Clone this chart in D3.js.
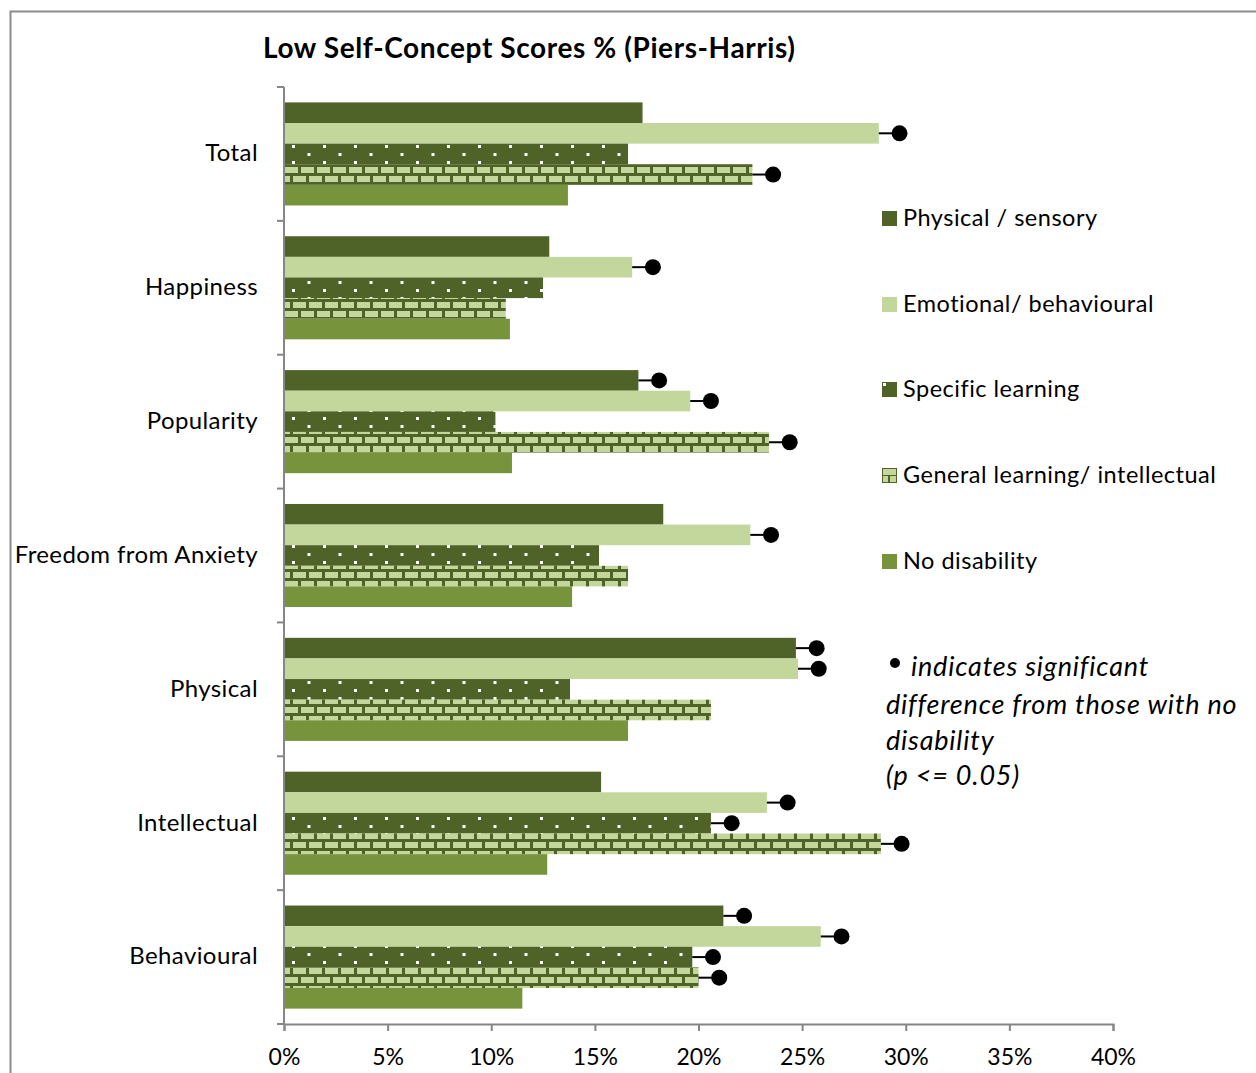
<!DOCTYPE html>
<html>
<head>
<meta charset="utf-8">
<script src="https://cdn.jsdelivr.net/npm/d3@7/dist/d3.min.js"></script>
<style>
  html, body { margin: 0; padding: 0; background: #fff; }
  svg { display: block; }
  text { font-family: Lato, "Open Sans", sans-serif; fill: #000; }
</style>
</head>
<body>
<svg id="chart" width="1256" height="1073"></svg>
<script>
// ---- data ----
const categories = ["Total", "Happiness", "Popularity", "Freedom from Anxiety", "Physical", "Intellectual", "Behavioural"];
const seriesNames = ["Physical / sensory", "Emotional/ behavioural", "Specific learning", "General learning/ intellectual", "No disability"];
const physicalSensory   = [17.3, 12.8, 17.1, 18.3, 24.7, 15.3, 21.2];
const emotionalBehav    = [28.7, 16.8, 19.6, 22.5, 24.8, 23.3, 25.9];
const specificLearning  = [16.6, 12.5, 10.2, 15.2, 13.8, 20.6, 19.7];
const generalLearning   = [22.6, 10.7, 23.4, 16.6, 20.6, 28.8, 20.0];
const noDisability      = [13.7, 10.9, 11.0, 13.9, 16.6, 12.7, 11.5];
// significance flags (1 = significant difference from no disability)
const sigPhysical  = [0, 0, 1, 0, 1, 0, 1];
const sigEmotional = [1, 1, 1, 1, 1, 1, 1];
const sigSpecific  = [0, 0, 0, 0, 0, 1, 1];
const sigGeneral   = [1, 0, 1, 0, 0, 1, 1];
const sigNone      = [0, 0, 0, 0, 0, 0, 0];
const xTicks = [0, 5, 10, 15, 20, 25, 30, 35, 40];
const markerOffset = 1.0; // marker placed 1 percentage point beyond bar end
const title = "Low Self-Concept Scores % (Piers-Harris)";
const noteLines = ["indicates significant", "difference from those with no", "disability", "(p <= 0.05)"];

const seriesValues = [physicalSensory, emotionalBehav, specificLearning, generalLearning, noDisability];
const seriesSig = [sigPhysical, sigEmotional, sigSpecific, sigGeneral, sigNone];
const fills = ["#4f6228", "#c3d69b", "url(#dots)", "url(#bricks)", "#77933c"];

const svg = d3.select("#chart");

// patterns
const defs = svg.append("defs");
const dots = defs.append("pattern").attr("id", "dots").attr("patternUnits", "userSpaceOnUse")
  .attr("x", 284).attr("y", 145).attr("width", 31).attr("height", 16);
dots.append("rect").attr("width", 31).attr("height", 16).attr("fill", "#4f6228");
dots.append("rect").attr("x", 8).attr("y", 0).attr("width", 3).attr("height", 3).attr("fill", "#fff");
dots.append("rect").attr("x", 23.5).attr("y", 8).attr("width", 3).attr("height", 3).attr("fill", "#fff");

const bricks = defs.append("pattern").attr("id", "bricks").attr("patternUnits", "userSpaceOnUse")
  .attr("x", 284).attr("y", 166).attr("width", 16).attr("height", 18);
bricks.append("rect").attr("width", 16).attr("height", 18).attr("fill", "#4f6228");
bricks.append("rect").attr("x", 1).attr("y", 1).attr("width", 13).attr("height", 6).attr("fill", "#c3d69b");
bricks.append("rect").attr("x", 9).attr("y", 10).attr("width", 13).attr("height", 6).attr("fill", "#c3d69b");
bricks.append("rect").attr("x", -7).attr("y", 10).attr("width", 13).attr("height", 6).attr("fill", "#c3d69b");

// outer frame
svg.append("rect").attr("x", 10.5).attr("y", 11.5).attr("width", 1300).attr("height", 1100)
  .attr("fill", "none").attr("stroke", "#8c8c8c").attr("stroke-width", 2);

// title
svg.append("text").attr("x", 263).attr("y", 58).attr("font-size", 28).attr("font-weight", "bold")
  .attr("letter-spacing", 0.6).text(title);

// scales
const x = d3.scaleLinear().domain([0, 40]).range([284, 1113]);
const y0 = d3.scaleBand().domain(categories).range([87, 1024]).paddingInner(0.23).paddingOuter(0.115);
const y1 = d3.scaleBand().domain(d3.range(seriesNames.length)).range([0, y0.bandwidth()]);

// bars
const rows = [];
categories.forEach((c, ci) => {
  seriesValues.forEach((vals, si) => {
    rows.push({ cat: c, si, v: vals[ci], sig: seriesSig[si][ci] });
  });
});

const g = svg.append("g");
g.selectAll("rect.bar").data(rows).join("rect").attr("class", "bar")
  .attr("x", x(0))
  .attr("y", d => y0(d.cat) + y1(d.si))
  .attr("width", d => x(d.v) - x(0))
  .attr("height", y1.bandwidth())
  .attr("fill", d => fills[d.si]);

// significance markers
const sig = rows.filter(d => d.sig);
g.selectAll("line.sig").data(sig).join("line").attr("class", "sig")
  .attr("x1", d => x(d.v)).attr("x2", d => x(d.v + markerOffset))
  .attr("y1", d => y0(d.cat) + y1(d.si) + y1.bandwidth() / 2)
  .attr("y2", d => y0(d.cat) + y1(d.si) + y1.bandwidth() / 2)
  .attr("stroke", "#000").attr("stroke-width", 2);
g.selectAll("circle.sig").data(sig).join("circle").attr("class", "sig")
  .attr("cx", d => x(d.v + markerOffset))
  .attr("cy", d => y0(d.cat) + y1(d.si) + y1.bandwidth() / 2)
  .attr("r", 8).attr("fill", "#000");

// y axis
const axisColor = "#868686";
svg.append("line").attr("x1", 284).attr("x2", 284).attr("y1", 87).attr("y2", 1024)
  .attr("stroke", axisColor).attr("stroke-width", 2);
const bounds = categories.map(c => y0(c) - y0.step() * y0.paddingInner() / 2).concat([1024]);
svg.selectAll("line.ytick").data(bounds).join("line").attr("class", "ytick")
  .attr("x1", 277).attr("x2", 284).attr("y1", d => d).attr("y2", d => d)
  .attr("stroke", axisColor).attr("stroke-width", 2);
svg.selectAll("text.ylab").data(categories).join("text").attr("class", "ylab")
  .attr("x", 258).attr("y", d => y0(d) + y0.bandwidth() / 2 - 1)
  .attr("dy", "0.35em").attr("text-anchor", "end").attr("font-size", 24)
  .attr("letter-spacing", 0.4).text(d => d);

// x axis
const xAxis = svg.append("g").attr("transform", "translate(0,1024)")
  .call(d3.axisBottom(x).tickValues(xTicks).tickFormat(d => d + "%").tickSize(7).tickPadding(18));
xAxis.select(".domain").attr("stroke", axisColor).attr("stroke-width", 2);
xAxis.selectAll(".tick line").attr("stroke", axisColor).attr("stroke-width", 2);
xAxis.selectAll(".tick text").attr("font-size", 23).attr("font-family", "Lato, 'Open Sans', sans-serif").attr("fill", "#000");

// legend
const legY = [218, 304, 389, 475, 561];
const leg = svg.append("g");
seriesNames.forEach((n, i) => {
  const gi = leg.append("g").attr("transform", `translate(882,${legY[i]})`);
  if (i === 2) {
    gi.append("rect").attr("x", 0).attr("y", -7).attr("width", 15).attr("height", 15).attr("fill", "#4f6228");
    gi.append("rect").attr("x", 1).attr("y", -6).attr("width", 3).attr("height", 3).attr("fill", "#fff");
  } else if (i === 3) {
    gi.append("rect").attr("x", 0).attr("y", -7).attr("width", 15).attr("height", 15).attr("fill", "#4f6228");
    gi.append("rect").attr("x", 1).attr("y", -6).attr("width", 13).attr("height", 6).attr("fill", "#c3d69b");
    gi.append("rect").attr("x", 1).attr("y", 1).attr("width", 5).attr("height", 6).attr("fill", "#c3d69b");
    gi.append("rect").attr("x", 8).attr("y", 1).attr("width", 6).attr("height", 6).attr("fill", "#c3d69b");
  } else {
    gi.append("rect").attr("x", 0).attr("y", -7).attr("width", 15).attr("height", 15).attr("fill", fills[i]);
  }
  gi.append("text").attr("x", 21).attr("y", 0).attr("dy", "0.35em").attr("font-size", 23.5)
    .attr("letter-spacing", 0.5).text(n);
});

// note
const noteY = [667, 705, 741, 776];
svg.append("circle").attr("cx", 895).attr("cy", 663).attr("r", 5).attr("fill", "#000");
noteLines.forEach((t, i) => {
  svg.append("text").attr("x", i === 0 ? 911 : 886).attr("y", noteY[i]).attr("dy", "0.35em")
    .attr("font-size", 27).attr("font-style", "italic").attr("letter-spacing", 0.8).text(t);
});
</script>
</body>
</html>
